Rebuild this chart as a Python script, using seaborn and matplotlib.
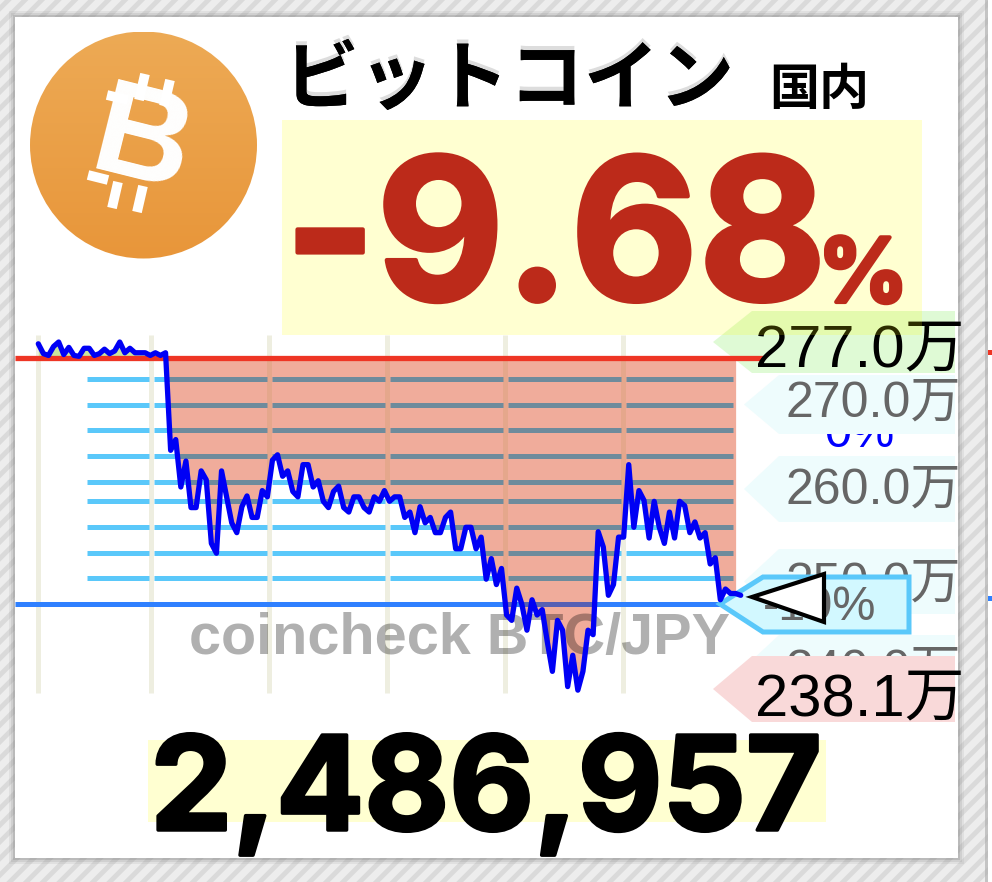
import numpy as np
import pandas as pd
import matplotlib
matplotlib.use('Agg')
import matplotlib.pyplot as plt
import matplotlib.patheffects as pe
from matplotlib.patches import Circle, Polygon, Rectangle
import seaborn as sns

# price in 万 JPY, one point per step
prices = [276.8, 275.7, 275.5, 276.5, 277.0, 275.6, 276.4, 275.5, 275.4, 276.3,
          276.3, 275.5, 275.7, 276.2, 275.7, 276.0, 277.0, 275.8, 276.3, 275.8,
          275.8, 275.8, 275.5, 275.8, 275.5, 275.8, 264.9, 266.1, 260.8, 263.7,
          258.5, 258.5, 262.6, 261.6, 254.5, 253.4, 262.6, 259.7, 256.8, 255.7,
          258.6, 259.8, 257.4, 257.4, 260.4, 259.7, 263.8, 264.4, 262.0, 262.6,
          260.3, 259.7, 263.3, 263.3, 260.8, 261.5, 259.2, 258.5, 260.3, 260.9,
          258.5, 258.0, 259.7, 259.7, 258.5, 258.0, 259.7, 259.2, 260.4, 259.2,
          259.7, 259.7, 257.4, 258.0, 255.7, 258.6, 256.8, 257.4, 255.7, 255.7,
          257.4, 258.0, 253.9, 253.9, 256.3, 256.3, 253.9, 255.2, 250.5, 252.8,
          249.9, 251.7, 246.5, 245.9, 249.5, 247.7, 244.8, 248.2, 246.5, 247.1,
          243.5, 240.2, 245.9, 244.8, 238.5, 242.0, 238.1, 240.2, 244.8, 244.3,
          255.8, 254.1, 248.7, 249.9, 255.2, 255.2, 263.3, 256.3, 260.4, 259.3,
          255.1, 259.2, 256.3, 254.5, 258.0, 255.1, 259.2, 258.7, 255.7, 256.9,
          255.1, 255.7, 252.2, 252.9, 248.2, 249.4, 248.9, 248.9, 248.7]
open_price = 275.2
minus10_price = 247.7
grid_levels = [272.9, 270.0, 267.2, 264.3, 261.4, 259.2, 256.3, 253.4, 250.6]
time_ticks = [0, 22.2, 45.4, 68.6, 91.7, 114.9]
axis_labels = ['270.0万', '260.0万', '250.0万', '240.0万']

title = 'ビットコイン'
region = '国内'
change_text = '-9.68'
last_text = '2,486,957'
high_text = '277.0万'
low_text = '238.1万'
watermark = 'coincheck BTC/JPY'

W, H = 992, 882
LINE_BLUE = '#0000F5'
SKY = '#5AC8FA'
RED_TEXT = '#BC2A1A'

sns.set_theme(style='white')
plt.rcParams['font.family'] = ['Liberation Sans', 'Noto Sans CJK JP']
plt.rcParams['hatch.linewidth'] = 5
plt.rcParams['hatch.color'] = '#EDEDED'

fig = plt.figure(figsize=(W / 100, H / 100), dpi=100)


def overlay(z):
    a = fig.add_axes([0, 0, 1, 1], zorder=z)
    a.set_xlim(0, W)
    a.set_ylim(H, 0)
    a.axis('off')
    a.patch.set_alpha(0)
    return a


bg = overlay(0)

# page behind the card
bg.add_patch(Rectangle((0, 0), W, H, fc='#DADADA', ec='#EDEDED', hatch='//', lw=0))
for grow, shade in [(6, 0.12), (4, 0.18), (2, 0.3)]:
    bg.add_patch(Rectangle((15 - grow, 17 - grow), 943 + 2 * grow, 841 + 2 * grow, fc='#888888', lw=0, alpha=shade))
bg.add_patch(Rectangle((15, 17), 943, 841, fc='white', lw=0))
bg.add_patch(Rectangle((985, 0), 3, H, fc='#AAAAAA', lw=0, alpha=0.6))
bg.add_patch(Rectangle((988, 0), 4, H, fc='white', lw=0))
bg.add_patch(Rectangle((988, 350), 4, 5, fc='#EE3524', lw=0))
bg.add_patch(Rectangle((988, 596), 4, 5, fc='#2F80FF', lw=0))

# coin
grad = np.linspace(0, 1, 256).reshape(-1, 1)
cmap = matplotlib.colors.LinearSegmentedColormap.from_list('coin', ['#EDAA55', '#E8963A'])
im = bg.imshow(grad, extent=(30, 257, 259, 32), cmap=cmap, aspect='auto', zorder=2)
coin = Circle((143.5, 145), 113.5, transform=bg.transData, fc='none', lw=0)
bg.add_patch(coin)
im.set_clip_path(coin)
bg.set_xlim(0, W)
bg.set_ylim(H, 0)
bg.text(141, 146, 'B', color='white', fontsize=96, fontweight='bold', rotation=-14,
        ha='center', va='center', zorder=3)
for x0, y0, x1, y1 in [(145, 74, 139, 100), (170, 80, 164, 106), (112, 208, 118, 182),
                       (137, 212, 143, 186), (107, 95, 128, 100), (88, 175, 108, 180)]:
    bg.plot([x0, x1], [y0, y1], color='white', lw=7, solid_capstyle='butt', zorder=3)

# blue 0% label sits under the axis tags
bg.text(859, 447, '0%', color='#0000FF', fontsize=35, ha='center', va='baseline', zorder=3)


def tag(a, y0, y1, tip, shoulder, fc, z=4, right=955):
    mid = (y0 + y1) / 2
    a.add_patch(Polygon([(tip, mid), (shoulder, y0), (right, y0), (right, y1), (shoulder, y1)],
                        closed=True, fc=fc, lw=0, zorder=z))


tag(bg, 311, 373, 713, 752, '#DFFAD5')
for (y0, y1, base), lab in zip([(375, 434, 417), (456, 522, 504), (549, 614, 598), (635, 700, 685)],
                               axis_labels):
    tag(bg, y0, y1, 744, 779, '#EEFCFD')
    bg.text(785, base, lab, color='#666666', fontsize=36, ha='left', va='baseline', zorder=5)
tag(bg, 656, 722, 713, 752, '#F9D9D9', z=6)

# chart, same pixel scale as the overlays
ax = fig.add_axes([0, 0, 1, 1], zorder=1)
ax.patch.set_alpha(0)
ax.axis('off')
x_per_px = 1 / 5.09
y_per_px = 3 / 26.85
ax.set_xlim(-38.3 * x_per_px, (W - 38.3) * x_per_px)
ax.set_ylim(279.46 - (H - 320) * y_per_px, 279.46 + 320 * y_per_px)

df = pd.DataFrame({'step': np.arange(len(prices)), 'price': prices})
v_low, v_high = 237.8, 277.8
grid_x0, grid_x1 = 9.57, 136.5
gap = 0.5

edges = [grid_x0] + [e for t in time_ticks[1:] for e in (t - gap, t + gap)] + [grid_x1]
segments = list(zip(edges[::2], edges[1::2]))

ax.vlines(time_ticks, v_low, v_high, color='#EEEEE0', lw=3.6, zorder=1, capstyle='butt')
for lo, hi in segments:
    ax.hlines(grid_levels, lo, hi, color=SKY, lw=3.6, zorder=2, capstyle='butt')

fill_df = df[df.step <= 137]
ax.fill_between(fill_df.step, open_price, fill_df.price, where=fill_df.price >= open_price,
                interpolate=True, color='#C9E69E', lw=0, zorder=3)
loss = ax.fill_between(fill_df.step, open_price, fill_df.price, where=fill_df.price <= open_price,
                       interpolate=True, color='#F0AC9B', lw=0, zorder=3)
clip_path = loss.get_paths()[0]

inside = [ax.vlines(time_ticks, v_low, v_high, color='#E5A78C', lw=3.6, zorder=4, capstyle='butt')]
for lo, hi in segments:
    inside.append(ax.hlines(grid_levels, lo, hi, color='#6E8B9C', lw=3.6, zorder=4, capstyle='butt'))
ax.axhline(minus10_price, xmin=15 / W, xmax=725 / W, color='#2F80FF', lw=3.6, zorder=5, solid_capstyle='butt')
inside.append(ax.axhline(minus10_price, xmin=15 / W, xmax=725 / W, color='#5660B4', lw=3.6, zorder=5,
                         solid_capstyle='butt'))
ax.axhline(open_price, xmin=15 / W, xmax=763 / W, color='#EE3524', lw=3.8, zorder=5, solid_capstyle='butt')
for art in inside:
    art.set_clip_path(clip_path, ax.transData)

top = overlay(1.5)
top.text(189, 654, watermark, color='black', alpha=0.31, fontsize=41.5, fontweight='bold',
         ha='left', va='baseline', zorder=0)
top.add_patch(Polygon([(720, 604), (763, 577), (909, 577), (909, 632), (763, 632)], closed=True,
                      fc='#D2F8FF', ec=SKY, lw=3.6, zorder=1))
top.text(763, 620, '-10%', color='#666666', fontsize=35, ha='left', va='baseline', zorder=2)

# line goes above the watermark and tags
line_ax = fig.add_axes([0, 0, 1, 1], zorder=1.7, sharex=ax, sharey=ax)
line_ax.patch.set_alpha(0)
line_ax.axis('off')
sns.lineplot(data=df, x='step', y='price', ax=line_ax, color=LINE_BLUE, lw=3.8,
             estimator=None, sort=False, legend=False)
line_ax.lines[0].set_solid_joinstyle('round')
line_ax.set_xlabel('')
line_ax.set_ylabel('')

front = overlay(3)
front.add_patch(Polygon([(752, 597), (824, 574), (824, 622)], closed=True, fc='white', ec='black', lw=3, zorder=2))
front.text(755, 366, high_text, color='black', fontsize=43, ha='left', va='baseline', zorder=2)
front.text(755, 715, low_text, color='black', fontsize=43, ha='left', va='baseline', zorder=2)

# headline
front.add_patch(Rectangle((282, 120), 640, 215, fc='#FFFF00', alpha=0.18, lw=0, zorder=3))
front.add_patch(Rectangle((148, 740), 678, 82, fc='#FFFF00', alpha=0.18, lw=0, zorder=1))
front.text(284, 103, title, fontsize=54, fontweight='bold', color='black', ha='left', va='baseline',
           family=['Noto Sans CJK JP'], zorder=4,
           path_effects=[pe.withSimplePatchShadow(offset=(0, 3), shadow_rgbFace='#DDDDDD', alpha=1), pe.Normal()])
front.text(769, 105, region, fontsize=36, fontweight='bold', color='black', ha='left', va='baseline',
           family=['Noto Sans CJK JP'], zorder=4)
thick_red = [pe.withStroke(linewidth=3, foreground=RED_TEXT, joinstyle='round')]
thick_black = [pe.withStroke(linewidth=2.5, foreground='black', joinstyle='round')]
front.text(284, 300, change_text, fontsize=142, fontweight='bold', color=RED_TEXT, ha='left', va='baseline',
           family=['Inter'], zorder=4, path_effects=thick_red)
front.text(818, 302, '%', fontsize=64, fontweight='bold', color=RED_TEXT, ha='left', va='baseline',
           family=['Inter'], zorder=4, path_effects=thick_red)
front.text(486, 830, last_text, fontsize=94, fontweight='bold', color='black', ha='center', va='baseline',
           family=['Inter'], zorder=4, path_effects=thick_black)

fig.savefig('out.png', dpi=100)
